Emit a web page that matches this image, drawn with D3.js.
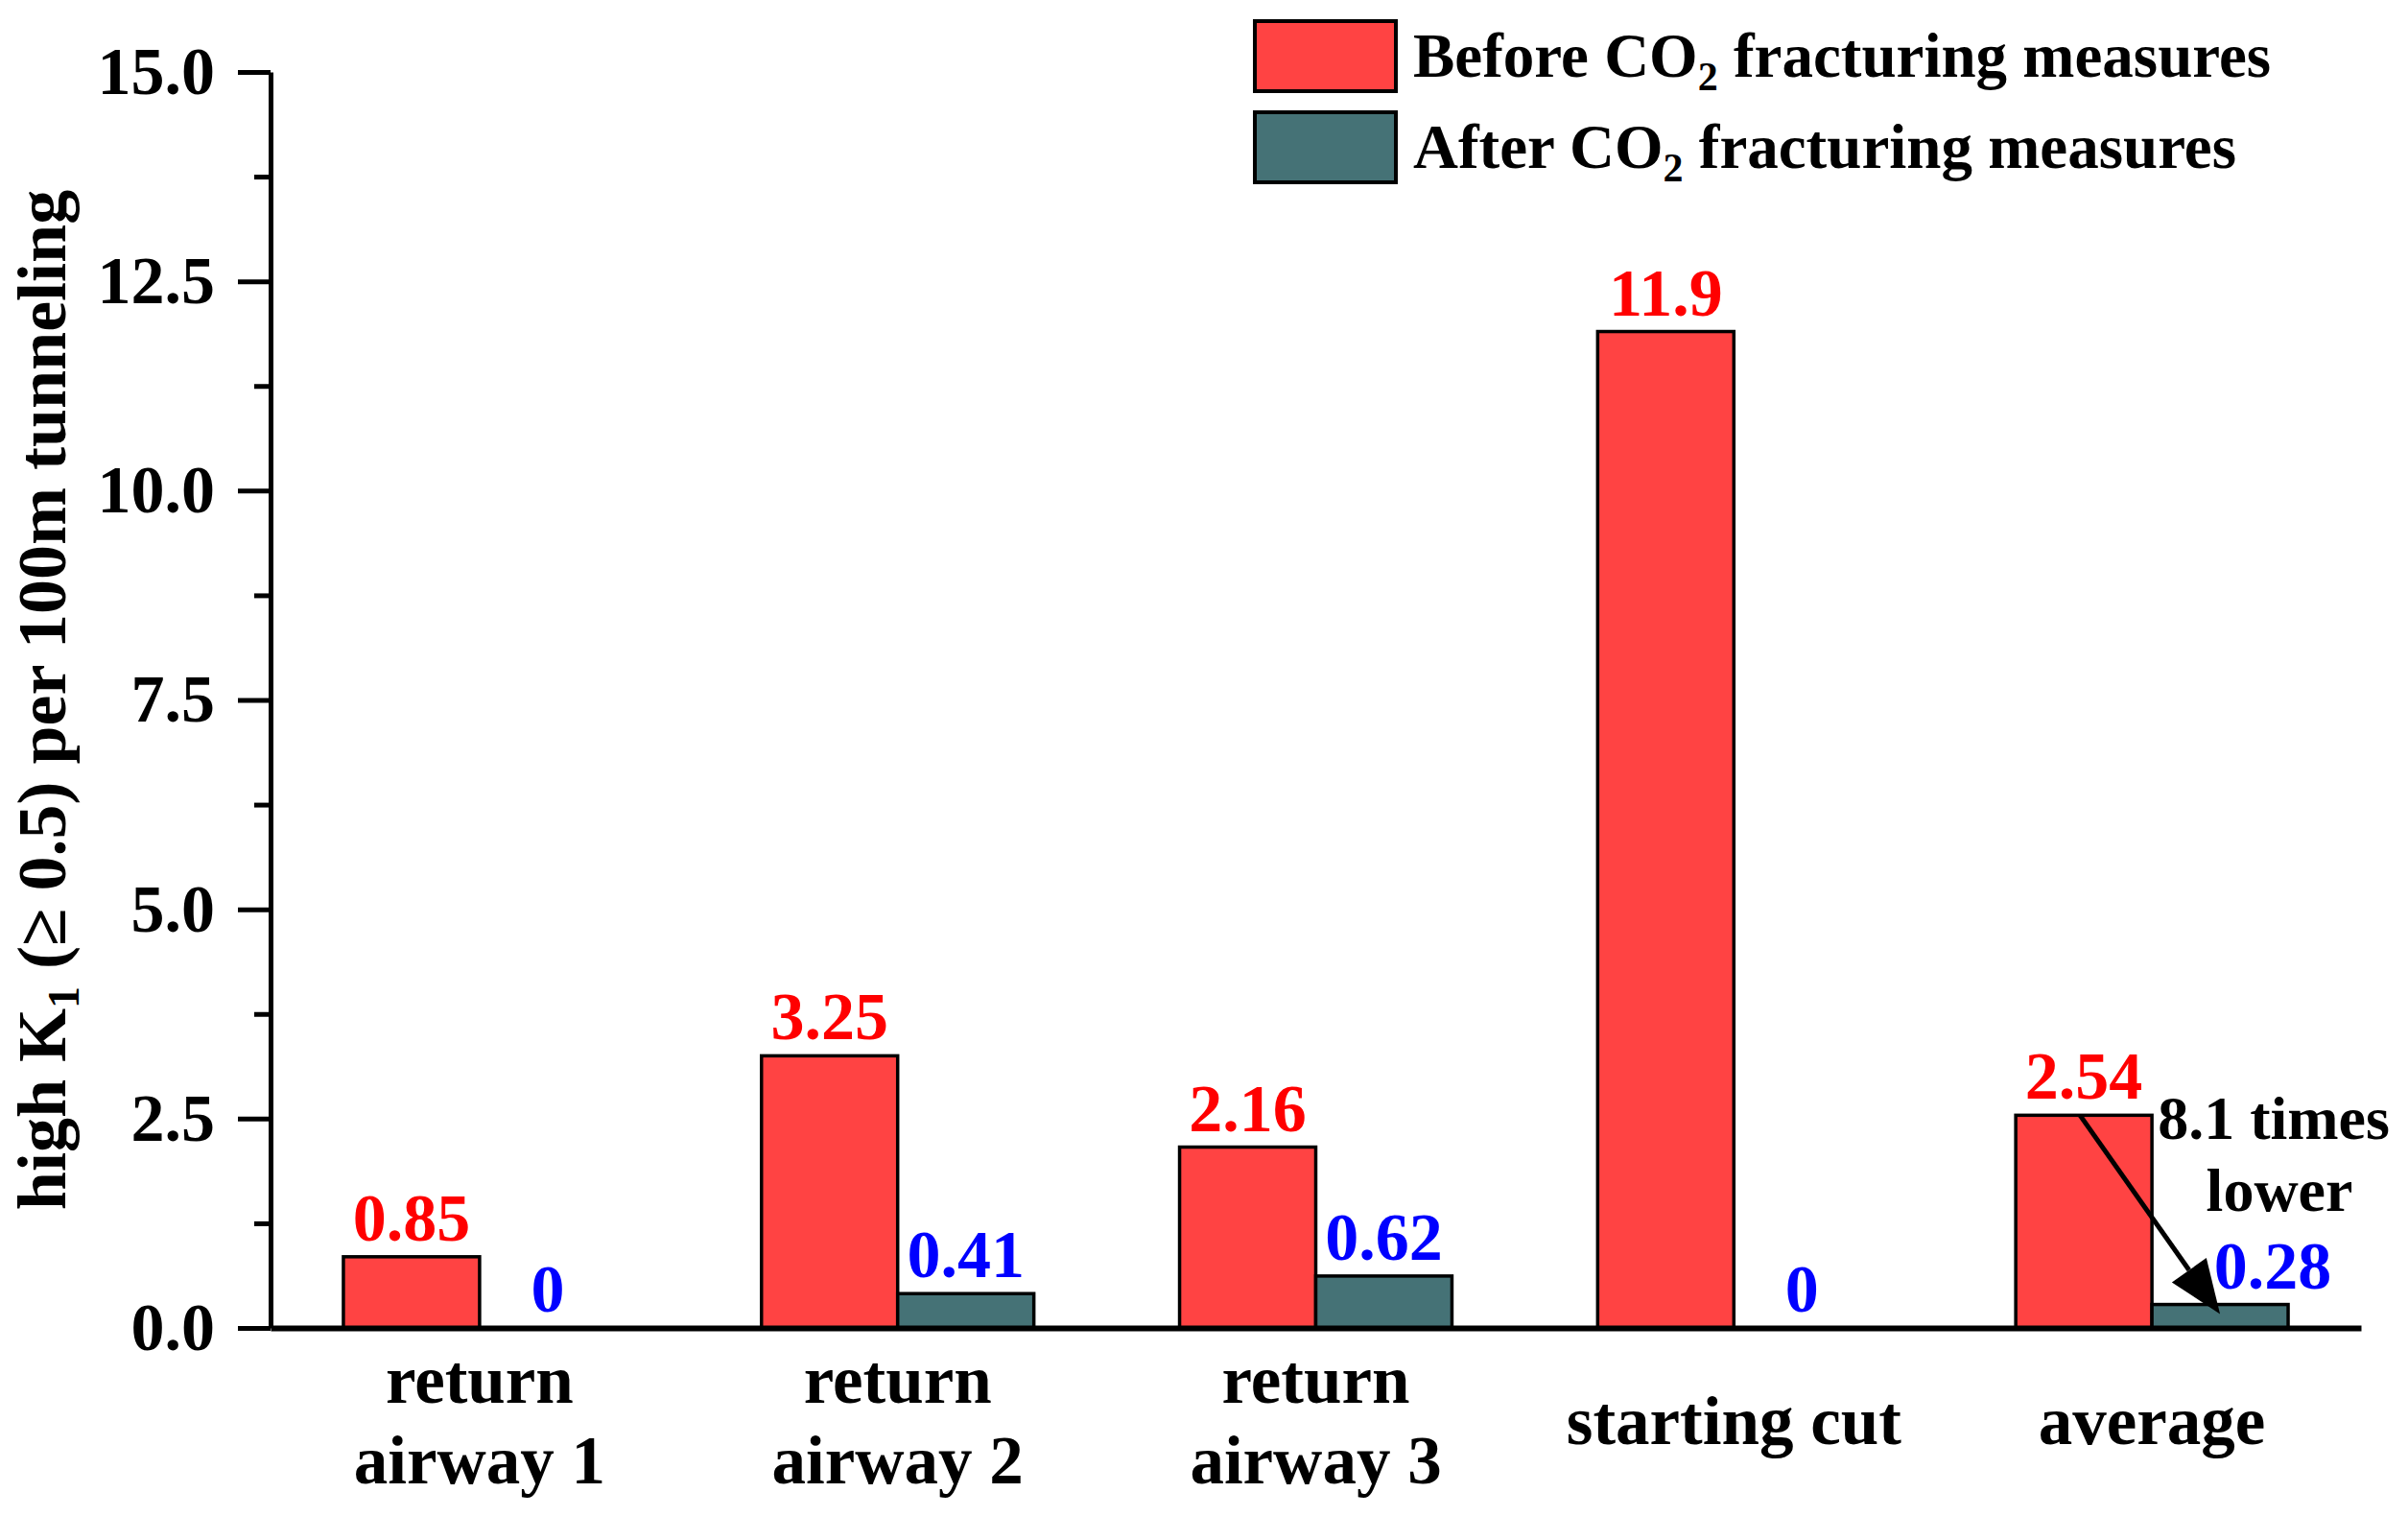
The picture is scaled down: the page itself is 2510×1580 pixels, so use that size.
<!DOCTYPE html>
<html>
<head>
<meta charset="utf-8">
<script src="https://cdn.jsdelivr.net/npm/d3@7"></script>
<style>
  body { margin: 0; background: #fff; }
  svg text { font-family: "Liberation Serif", Tinos, "Times New Roman", Times, "DejaVu Serif", serif !important; font-weight: bold; }
</style>
</head>
<body>
<div id="chart"></div>
<script>
// data
const categories = ["return|airway 1", "return|airway 2", "return|airway 3", "starting cut", "average"];
const seriesNames = ["Before CO2 fracturing measures", "After CO2 fracturing measures"];
const beforeValues = [0.85, 3.25, 2.16, 11.9, 2.54];
const afterValues = [0, 0.41, 0.62, 0, 0.28];
const beforeLabels = ["0.85", "3.25", "2.16", "11.9", "2.54"];
const afterLabels = ["0", "0.41", "0.62", "0", "0.28"];
const yTicks = [0, 2.5, 5, 7.5, 10, 12.5, 15];
const yMinorTicks = [1.25, 3.75, 6.25, 8.75, 11.25, 13.75];

const W = 2510, H = 1580;
const margin = {top: 75, right: 49, bottom: 196, left: 282};

const barFill = ["#ff4343", "#457276"];
const labelFill = ["#ff0000", "#0000ff"];

const svg = d3.select("#chart").append("svg")
  .attr("width", W)
  .attr("height", H);

const y = d3.scaleLinear()
  .domain([0, 15])
  .range([H - margin.bottom, margin.top]);

const x0 = d3.scaleBand()
  .domain(categories)
  .range([margin.left, W - margin.right])
  .paddingInner(0)
  .paddingOuter(0);

const x1 = d3.scaleBand()
  .domain([0, 1])
  .range([0, x0.bandwidth()])
  .paddingInner(0)
  .paddingOuter(0.535);

const rows = categories.map((c, i) => ({
  cat: c,
  vals: [beforeValues[i], afterValues[i]],
  labs: [beforeLabels[i], afterLabels[i]]
}));

// bars
const groups = svg.selectAll(".grp")
  .data(rows)
  .enter().append("g")
  .attr("class", "grp")
  .attr("transform", d => "translate(" + x0(d.cat) + ",0)");

groups.selectAll("rect")
  .data(d => d.vals.map((v, k) => ({k: k, v: v})).filter(e => e.v > 0))
  .enter().append("rect")
  .attr("x", e => x1(e.k))
  .attr("y", e => y(e.v))
  .attr("width", x1.bandwidth())
  .attr("height", e => y(0) - y(e.v))
  .attr("fill", e => barFill[e.k])
  .attr("stroke", "#000")
  .attr("stroke-width", 3.5);

// value labels (0.28 on the average group is nudged right of the arrow)
groups.selectAll(".val")
  .data((d, i) => d.vals.map((v, k) => ({k: k, v: v, t: d.labs[k], shift: (i === 4 && k === 1) ? 55 : 0})))
  .enter().append("text")
  .attr("class", "val")
  .attr("x", e => x1(e.k) + x1.bandwidth() / 2 + e.shift)
  .attr("y", e => y(e.v) - 17)
  .attr("text-anchor", "middle")
  .attr("font-size", 70)
  .attr("fill", e => labelFill[e.k])
  .text(e => e.t);

// y axis, major + minor ticks
const yAxis = svg.append("g")
  .attr("transform", "translate(" + margin.left + ",0)")
  .call(d3.axisLeft(y)
    .tickValues(yTicks)
    .tickSize(34)
    .tickSizeOuter(0)
    .tickPadding(24)
    .tickFormat(d3.format(".1f")));

svg.append("g")
  .attr("transform", "translate(" + margin.left + ",0)")
  .call(d3.axisLeft(y)
    .tickValues(yMinorTicks)
    .tickSize(17)
    .tickSizeOuter(0)
    .tickFormat(""))
  .select(".domain").remove();

svg.selectAll(".tick line").attr("stroke-width", 5);
yAxis.select(".domain").attr("stroke-width", 5);
yAxis.selectAll("text")
  .attr("font-size", 70)
  .attr("fill", "#000");

// x axis
const xAxis = svg.append("g")
  .attr("transform", "translate(0," + y(0) + ")")
  .call(d3.axisBottom(x0).tickSize(0).tickSizeOuter(0).tickFormat(""));

xAxis.select(".domain").attr("stroke-width", 6);

xAxis.selectAll(".tick")
  .append("text")
  .attr("font-size", 71)
  .attr("fill", "#000")
  .attr("text-anchor", "middle")
  .each(function(d) {
    const lines = d.split("|");
    const t = d3.select(this);
    const base = lines.length === 1 ? 121 : 78;
    lines.forEach((ln, j) => {
      t.append("tspan").attr("x", 0).attr("y", base + j * 84).text(ln);
    });
  });

// y axis title
const yTitle = svg.append("text")
  .attr("transform", "translate(68," + (margin.top + y(0)) / 2 + ") rotate(-90)")
  .attr("text-anchor", "middle")
  .attr("font-size", 72)
  .attr("fill", "#000");
yTitle.append("tspan").text("high K");
yTitle.append("tspan").attr("font-size", 46).attr("dy", 14).text("1");
yTitle.append("tspan").attr("dy", -14).text(" (\u2265 0.5) per 100m tunneling");

// legend
const legend = svg.selectAll(".legend")
  .data(seriesNames)
  .enter().append("g")
  .attr("class", "legend")
  .attr("transform", (d, i) => "translate(1308," + (22 + i * 95) + ")");

legend.append("rect")
  .attr("width", 147)
  .attr("height", 73)
  .attr("fill", (d, i) => barFill[i])
  .attr("stroke", "#000")
  .attr("stroke-width", 4);

legend.each(function(d) {
  const t = d3.select(this).append("text")
    .attr("x", 165)
    .attr("y", 58)
    .attr("font-size", 65)
    .attr("fill", "#000");
  const parts = d.split("CO2");
  t.append("tspan").text(parts[0] + "CO");
  t.append("tspan").attr("font-size", 42).attr("dy", 14).text("2");
  t.append("tspan").attr("dy", -14).text(parts[1]);
});

// "8.1 times lower" annotation with arrow on the average group
const avg = categories[4];
const ax1 = x0(avg) + x1(0) + x1.bandwidth() / 2 - 4;
const ay1 = y(beforeValues[4]);
const ax2 = x0(avg) + x1(1) + x1.bandwidth() / 2;
const ay2 = y(afterValues[4]) + 10;

const ang = Math.atan2(ay2 - ay1, ax2 - ax1);
const headLen = 56, headW = 22;
const bx = ax2 - headLen * Math.cos(ang), by = ay2 - headLen * Math.sin(ang);

svg.append("line")
  .attr("x1", ax1).attr("y1", ay1)
  .attr("x2", bx).attr("y2", by)
  .attr("stroke", "#000")
  .attr("stroke-width", 5);

svg.append("path")
  .attr("d", d3.line()([
    [ax2, ay2],
    [bx + headW * Math.sin(ang), by - headW * Math.cos(ang)],
    [bx - headW * Math.sin(ang), by + headW * Math.cos(ang)]
  ]) + "Z")
  .attr("fill", "#000");

const note = svg.append("text")
  .attr("text-anchor", "middle")
  .attr("font-size", 64)
  .attr("fill", "#000");
note.append("tspan").attr("x", 2370).attr("y", 1187).text("8.1 times");
note.append("tspan").attr("x", 2376).attr("y", 1262).text("lower");
</script>
</body>
</html>
